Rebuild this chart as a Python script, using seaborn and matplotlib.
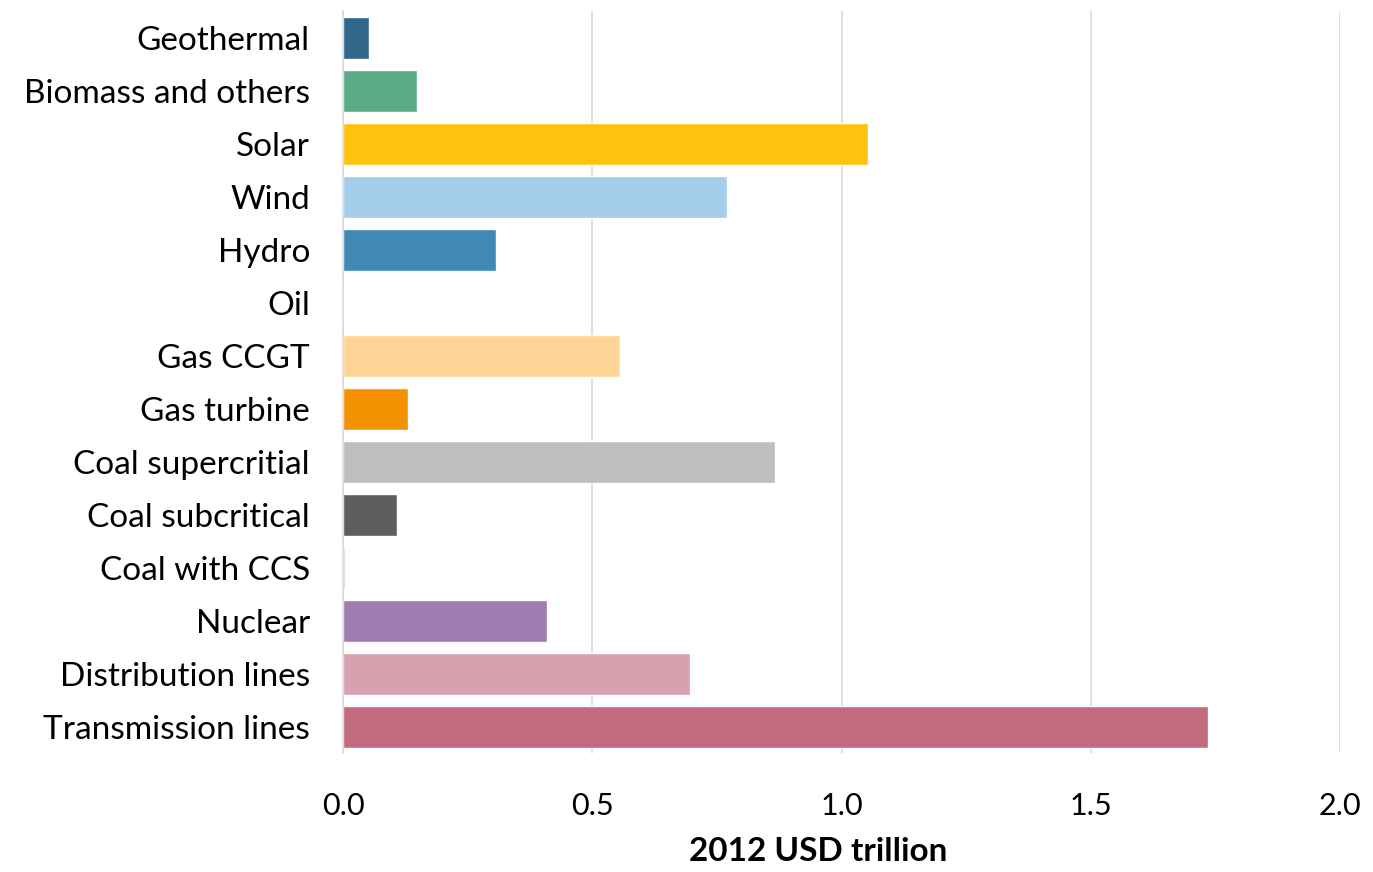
import pandas as pd
import seaborn as sns
import matplotlib.pyplot as plt

technologies = ["Geothermal", "Biomass and others", "Solar", "Wind", "Hydro", "Oil",
                "Gas CCGT", "Gas turbine", "Coal supercritial", "Coal subcritical",
                "Coal with CCS", "Nuclear", "Distribution lines", "Transmission lines"]
investment = [0.052, 0.148, 1.053, 0.770, 0.307, 0.0,
              0.556, 0.130, 0.867, 0.108,
              0.004, 0.409, 0.696, 1.735]
colors = ["#30678A", "#5CAB86", "#FFC20E", "#A4CDEC", "#3F89B4", "#BDD7EE",
          "#FED596", "#F49100", "#BEBEBE", "#5E5E5E",
          "#CFCFCF", "#9E7CAF", "#D8A1AF", "#C16B7E"]
xticks = [0.0, 0.5, 1.0, 1.5, 2.0]

df = pd.DataFrame({"tech": technologies, "value": investment})

sns.set_style("white")
plt.rcParams["font.family"] = ["Lato", "DejaVu Sans"]
plt.rcParams["text.color"] = "black"
plt.rcParams["xtick.color"] = "black"
plt.rcParams["ytick.color"] = "black"
plt.rcParams["axes.labelcolor"] = "black"

fig = plt.figure(figsize=(13.73, 8.72), dpi=100)
ax = fig.add_axes([0.25, 0.136, 0.726, 0.851])

sns.barplot(data=df, x="value", y="tech", hue="tech", palette=colors,
            order=technologies, hue_order=technologies, legend=False,
            width=0.8, saturation=1, ax=ax)

ax.set_xlim(0, 2.0)
ax.set_xticks(xticks)
ax.set_xticklabels([f"{t:.1f}" for t in xticks], fontsize=22)
ax.xaxis.grid(True, color="#D9D9D9", linewidth=1.2)
ax.set_axisbelow(True)
ax.tick_params(axis="x", length=0, pad=28)
ax.tick_params(axis="y", length=0, pad=24, labelsize=24)
for s in ["top", "right", "bottom"]:
    ax.spines[s].set_visible(False)
ax.spines["left"].set_color("#D9D9D9")
ax.spines["left"].set_linewidth(1.2)

ax.set_ylabel("")
ax.set_xlabel("2012 USD trillion", fontsize=24, fontweight="bold")
ax.xaxis.set_label_coords(0.476, -0.112)

fig.savefig("out.png", dpi=100)
